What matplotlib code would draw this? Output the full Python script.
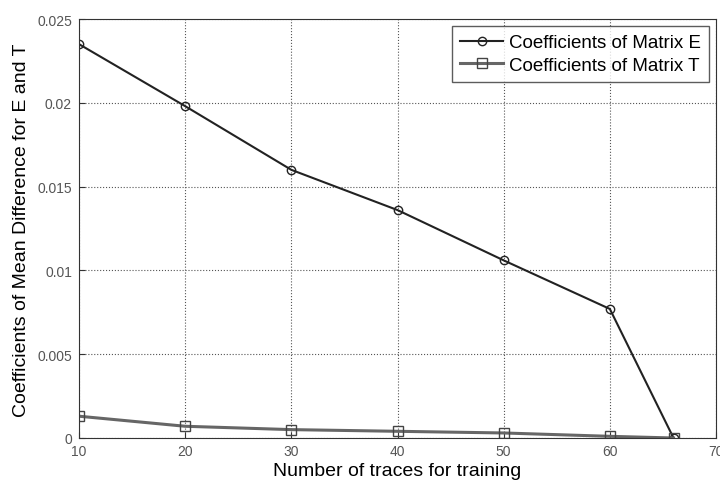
import matplotlib
matplotlib.use("Agg")
import matplotlib.pyplot as plt

traces = [10, 20, 30, 40, 50, 60, 66]
coef_e = [0.0235, 0.0198, 0.0160, 0.0136, 0.0106, 0.0077, 0.0]
coef_t = [0.0013, 0.0007, 0.0005, 0.0004, 0.0003, 0.0001, 0.0]
xticks = [10, 20, 30, 40, 50, 60, 70]
yticks = [0, 0.005, 0.01, 0.015, 0.02, 0.025]
ytick_labels = ["0", "0.005", "0.01", "0.015", "0.02", "0.025"]

plt.rcParams["font.family"] = ["Liberation Sans", "DejaVu Sans"]

W, H = 720, 485
L, R, T, B = 79, 716, 20, 439   # axes box in pixels
fig = plt.figure(figsize=(W / 100, H / 100), dpi=100, facecolor="white")
ax = fig.add_axes([L / W, 1 - B / H, (R - L) / W, (B - T) / H])

ax.plot(traces, coef_e, color="#222222", lw=1.5, marker="o", ms=6,
        mfc="none", mec="#222222", mew=1.0, label="Coefficients of Matrix E")
ax.plot(traces, coef_t, color="#666666", lw=2.2, marker="s", ms=7,
        mfc="none", mec="#444444", mew=1.0, label="Coefficients of Matrix T")

ax.set_xlim(10, 70)
ax.set_ylim(0, 0.025)
ax.set_xticks(xticks)
ax.set_yticks(yticks)
ax.set_yticklabels(ytick_labels)
ax.tick_params(direction="in", labelsize=10, length=4, colors="#333333", labelcolor="#555555")
ax.tick_params(axis="y", pad=5)
ax.tick_params(axis="x", pad=4)
ax.grid(True, linestyle=":", color="#555555", lw=0.8)
for s in ax.spines.values():
    s.set_color("#333333")

ax.set_xlabel("Number of traces for training", fontsize=14, labelpad=3)
fig.text(22 / W, 1 - 230 / H, "Coefficients of Mean Difference for E and T",
         rotation=90, ha="center", va="center", fontsize=14)

leg = ax.legend(loc="upper right", fontsize=13.5, frameon=True, fancybox=False,
                edgecolor="#333333", handlelength=2.3, borderpad=0.45,
                labelspacing=0.3, borderaxespad=0.35, handletextpad=0.3)
leg.get_frame().set_linewidth(1.0)

fig.savefig("out.png", dpi=100, facecolor="white")
